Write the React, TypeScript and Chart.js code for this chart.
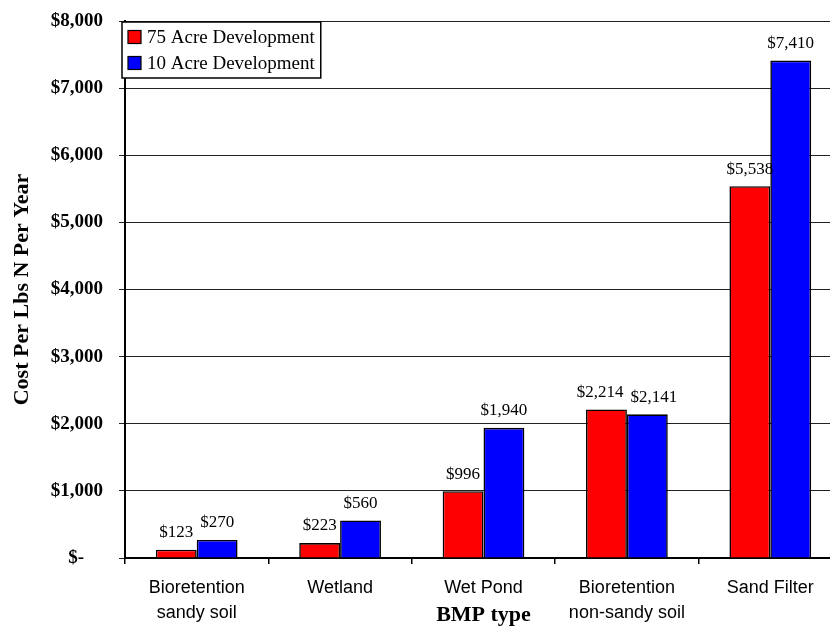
import React, { useEffect, useRef } from "react";
import { Chart, registerables } from "chart.js";

Chart.register(...registerables);

// BMP types along the x axis (multi-line labels are arrays)
const categories: (string | string[])[] = [
  ["Bioretention", "sandy soil"],
  "Wetland",
  "Wet Pond",
  ["Bioretention", "non-sandy soil"],
  "Sand Filter",
];

const seriesNames = ["75 Acre Development", "10 Acre Development"];
const seriesColors = ["#FF0000", "#0000FF"];

// Cost per lbs N per year, dollars
const acre75Values = [123, 223, 996, 2214, 5538];
const acre10Values = [270, 560, 1940, 2141, 7410];

const yMin = 0;
const yMax = 8000;
const yStep = 1000;

const SERIF = "'Liberation Serif', 'Times New Roman', serif";
const SANS = "'Liberation Sans', Arial, sans-serif";

const money = (v: number) => "$" + Math.round(v).toLocaleString("en-US");

// Value labels above each bar; labels that would collide inside a group are pushed apart
const barValueLabels = {
  id: "barValueLabels",
  afterDatasetsDraw(chart: any) {
    const ctx = chart.ctx;
    ctx.save();
    ctx.font = `17px ${SERIF}`;
    ctx.fillStyle = "#000";
    ctx.textAlign = "center";
    ctx.textBaseline = "middle";
    const nCat = chart.data.labels.length;
    for (let i = 0; i < nCat; i++) {
      const items: { x: number; y: number; w: number; text: string }[] = [];
      chart.data.datasets.forEach((ds: any, di: number) => {
        const meta = chart.getDatasetMeta(di);
        const el = meta.data[i];
        const text = money(ds.data[i]);
        items.push({ x: el.x, y: el.y - 17, w: ctx.measureText(text).width, text });
      });
      for (let k = 1; k < items.length; k++) {
        const a = items[k - 1];
        const b = items[k];
        const gap = 7;
        const overlap = a.x + a.w / 2 + gap - (b.x - b.w / 2);
        if (overlap > 0 && Math.abs(a.y - b.y) < 16) {
          a.x -= overlap / 2;
          b.x += overlap / 2;
        }
      }
      items.forEach((it) => ctx.fillText(it.text, it.x, it.y));
    }
    ctx.restore();
  },
};

// Boxed legend sitting in the top-left corner of the plot
const boxLegend = {
  id: "boxLegend",
  afterDatasetsDraw(chart: any) {
    const { ctx, chartArea } = chart;
    ctx.save();
    ctx.font = `19px ${SERIF}`;
    const datasets = chart.data.datasets;
    const textW = Math.max(...datasets.map((d: any) => ctx.measureText(d.label).width));
    const padL = 6;
    const sw = 13;
    const gap = 6;
    const rowH = 26;
    const x = chartArea.left - 3;
    const y = chartArea.top + 1;
    const w = padL + sw + gap + textW + 6;
    const h = rowH * datasets.length + 4;
    ctx.fillStyle = "#fff";
    ctx.fillRect(x, y, w, h);
    ctx.lineWidth = 1.5;
    ctx.strokeStyle = "#000";
    ctx.strokeRect(x, y, w, h);
    datasets.forEach((d: any, i: number) => {
      const cy = y + 15 + i * rowH;
      ctx.fillStyle = d.backgroundColor;
      ctx.fillRect(x + padL, cy - sw / 2, sw, sw);
      ctx.lineWidth = 1.2;
      ctx.strokeStyle = "#000";
      ctx.strokeRect(x + padL, cy - sw / 2, sw, sw);
      ctx.fillStyle = "#000";
      ctx.textAlign = "left";
      ctx.textBaseline = "middle";
      ctx.fillText(d.label, x + padL + sw + gap, cy + 1);
    });
    ctx.restore();
  },
};

export default function App() {
  const canvasRef = useRef<HTMLCanvasElement | null>(null);

  useEffect(() => {
    if (!canvasRef.current) return;
    const chart = new Chart(canvasRef.current, {
      type: "bar",
      data: {
        labels: categories,
        datasets: [
          {
            label: seriesNames[0],
            data: acre75Values,
            backgroundColor: seriesColors[0],
            borderColor: "#000",
            borderWidth: 1.6,
          },
          {
            label: seriesNames[1],
            data: acre10Values,
            backgroundColor: seriesColors[1],
            borderColor: "#000",
            borderWidth: 1.6,
          },
        ],
      },
      options: {
        responsive: false,
        animation: false,
        devicePixelRatio: 1,
        layout: { padding: { top: 21, left: 0, right: 0, bottom: 0 } },
        datasets: {
          bar: { categoryPercentage: 0.57, barPercentage: 1.0 },
        },
        plugins: {
          legend: { display: false },
          tooltip: { enabled: false },
        },
        scales: {
          x: {
            offset: true,
            grid: {
              offset: true,
              drawOnChartArea: false,
              drawTicks: true,
              tickLength: 6,
              color: "#000",
              lineWidth: 1.5,
            },
            border: { color: "#000", width: 2 },
            ticks: {
              color: "#000",
              font: { family: SANS, size: 18, lineHeight: 1.42 },
              padding: 11,
              maxRotation: 0,
              autoSkip: false,
            },
            title: {
              display: true,
              text: "BMP type",
              color: "#000",
              font: { family: SERIF, size: 22, weight: "bold", lineHeight: 1.2 },
              padding: { top: 0, bottom: 0 },
            },
            afterFit(scale: any) {
              scale.height = 71;
              scale.paddingLeft = 0;
              scale.paddingRight = 0;
            },
          },
          y: {
            min: yMin,
            max: yMax,
            ticks: {
              stepSize: yStep,
              color: "#000",
              font: { family: SERIF, size: 19, weight: "bold" },
              padding: 16,
              callback: (v: any) => (Number(v) === 0 ? "$-\u2007\u2007" : money(Number(v))),
            },
            grid: {
              color: "#222",
              lineWidth: 1,
              drawTicks: true,
              tickLength: 6,
            },
            border: { color: "#000", width: 2 },
            title: {
              display: true,
              text: "Cost Per Lbs N Per Year",
              color: "#000",
              font: { family: SERIF, size: 22, weight: "bold", lineHeight: 1.2 },
              padding: { top: 9, bottom: 0 },
            },
            afterFit(scale: any) {
              scale.width = 125;
              scale.paddingTop = 0;
              scale.paddingBottom = 0;
            },
          },
        },
      },
      plugins: [barValueLabels, boxLegend],
    });
    return () => chart.destroy();
  }, []);

  return (
    <div
      style={{
        position: "fixed",
        left: 0,
        top: 0,
        width: 830,
        height: 629,
        overflow: "hidden",
        background: "#fff",
      }}
    >
      <canvas
        ref={canvasRef}
        width={842}
        height={629}
        style={{ width: 842, height: 629, display: "block" }}
      />
    </div>
  );
}
